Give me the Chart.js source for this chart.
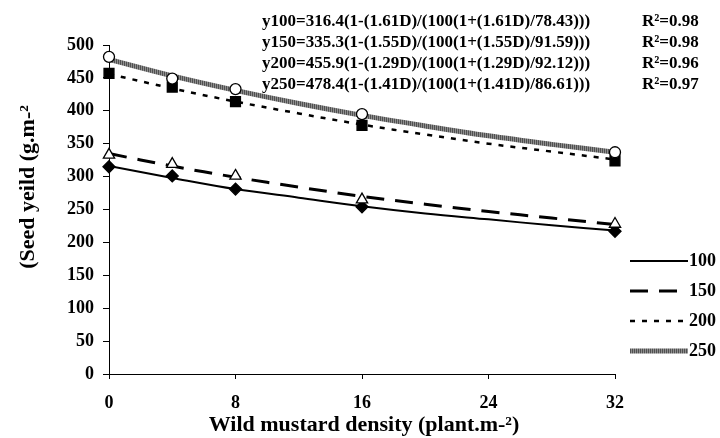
<!DOCTYPE html>
<html>
<head>
<meta charset="utf-8">
<script src="https://cdn.jsdelivr.net/npm/chart.js@4.4.0/dist/chart.umd.min.js"></script>
<style>
  html, body { margin: 0; padding: 0; background: #fff; }
  #wrap { width: 720px; height: 438px; }
</style>
</head>
<body>
<div id="wrap"><canvas id="myChart" width="720" height="438"></canvas></div>
<script>
// wild mustard density (plant m-2)
const densityObs = [0, 4, 8, 16, 32];
const densityFit = [0, 4, 8, 12, 16, 20, 24, 28, 32];
const xTicks = [0, 8, 16, 24, 32];

// measured seed yield (g m-2) for each crop density
const obs100 = [315, 301, 281, 254, 217];
const obs150 = [333, 319, 301, 265, 228];
const obs200 = [457, 436, 414, 378, 324];
const obs250 = [482, 449, 433, 395, 337];

// fitted yield-loss curves
const fit100 = [316, 298, 281, 268, 255, 244, 235, 226, 218];
const fit150 = [335, 316, 299, 284, 270, 258, 247, 237, 227];
const fit200 = [456, 434, 414, 396, 379, 364, 350, 338, 326];
const fit250 = [478, 453, 431, 411, 393, 377, 362, 349, 337];

const seriesNames = ['100', '150', '200', '250'];
const equations = [
  'y100=316.4(1-(1.61D)/(100(1+(1.61D)/78.43)))',
  'y150=335.3(1-(1.55D)/(100(1+(1.55D)/91.59)))',
  'y200=455.9(1-(1.29D)/(100(1+(1.29D)/92.12)))',
  'y250=478.4(1-(1.41D)/(100(1+(1.41D)/86.61)))'
];
const rSquared = ['R²=0.98', 'R²=0.98', 'R²=0.96', 'R²=0.97'];

const FONT = "'Liberation Serif', 'Times New Roman', serif";

// striped grey for the 250 line
const stripe = document.createElement('canvas');
stripe.width = 2; stripe.height = 2;
const sctx = stripe.getContext('2d');
sctx.fillStyle = '#8e8e8e'; sctx.fillRect(0, 0, 2, 2);
sctx.fillStyle = '#505050'; sctx.fillRect(0, 0, 1, 2);
const grayLine = sctx.createPattern(stripe, 'repeat');

const lineStyles = [
  { color: '#000', width: 2, dash: [] },
  { color: '#000', width: 3, dash: [18, 11] },
  { color: '#000', width: 2.5, dash: [5, 7] },
  { color: grayLine, width: 5, dash: [] }
];

const toXY = (xs, ys) => xs.map((x, i) => ({ x: x, y: ys[i] }));

function fitSet(ys, k) {
  return {
    data: toXY(densityFit, ys),
    showLine: true,
    pointRadius: 0,
    borderColor: lineStyles[k].color,
    borderWidth: lineStyles[k].width,
    borderDash: lineStyles[k].dash,
    tension: 0.35,
    fill: false,
    order: 10 + k
  };
}

function obsSet(ys, style, fillColor, radius, ord) {
  return {
    data: toXY(densityObs, ys),
    showLine: false,
    pointStyle: style,
    pointRadius: radius,
    pointBackgroundColor: fillColor,
    pointBorderColor: '#000',
    pointBorderWidth: 1.3,
    clip: false,
    order: ord
  };
}

// equations, legend and axis titles
const textPlugin = {
  id: 'textPlugin',
  afterDraw(chart) {
    const c = chart.ctx;
    c.save();
    c.fillStyle = '#000';
    c.textBaseline = 'middle';

    c.font = 'bold 17px ' + FONT;
    c.textAlign = 'left';
    equations.forEach((eq, i) => {
      const y = 22 + i * 21;
      c.fillText(eq, 262, y);
      c.fillText(rSquared[i], 642, y);
    });

    // legend
    seriesNames.forEach((name, i) => {
      const y = 261 + i * 30;
      const st = lineStyles[i];
      c.beginPath();
      c.strokeStyle = st.color;
      c.lineWidth = st.width;
      c.setLineDash(st.dash);
      c.moveTo(630, y);
      c.lineTo(688, y);
      c.stroke();
      c.setLineDash([]);
      c.font = 'bold 18px ' + FONT;
      c.fillText(name, 689, y);
    });

    // axis titles
    c.font = 'bold 22px ' + FONT;
    c.textAlign = 'center';
    const a = chart.chartArea;
    c.fillText('Wild mustard density (plant.m-²)', (a.left + a.right) / 2 + 2, 425);
    c.translate(28, 187);
    c.rotate(-Math.PI / 2);
    c.fillText('(Seed yeild (g.m-²', 0, 0);
    c.restore();
  }
};

const ctx = document.getElementById('myChart').getContext('2d');
const myChart = new Chart(ctx, {
  type: 'scatter',
  data: {
    datasets: [
      obsSet(obs250, 'circle', '#fff', 5.5, 1),
      obsSet(obs200, 'rect', '#000', 7, 2),
      obsSet(obs150, 'triangle', '#fff', 6.5, 3),
      obsSet(obs100, 'rectRot', '#000', 6, 4),
      fitSet(fit100, 0),
      fitSet(fit150, 1),
      fitSet(fit200, 2),
      fitSet(fit250, 3)
    ]
  },
  options: {
    responsive: false,
    animation: false,
    layout: { padding: { top: 45, right: 105, left: 0, bottom: 0 } },
    plugins: {
      legend: { display: false },
      tooltip: { enabled: false }
    },
    scales: {
      x: {
        type: 'linear',
        min: 0,
        max: 32,
        afterBuildTicks: s => { s.ticks = xTicks.map(v => ({ value: v })); },
        afterFit: s => { s.height = 64; },
        grid: { drawOnChartArea: false, tickLength: 5, tickColor: '#000' },
        border: { color: '#000', width: 1 },
        ticks: {
          color: '#000',
          padding: 14,
          maxRotation: 0,
          font: { family: FONT, weight: 'bold', size: 18 }
        }
      },
      y: {
        min: 0,
        max: 500,
        afterFit: s => { s.width = 109; },
        grid: { drawOnChartArea: false, tickLength: 6, tickColor: '#000' },
        border: { color: '#000', width: 1 },
        ticks: {
          stepSize: 50,
          color: '#000',
          padding: 9,
          font: { family: FONT, weight: 'bold', size: 18 }
        }
      }
    }
  },
  plugins: [textPlugin]
});
</script>
</body>
</html>
